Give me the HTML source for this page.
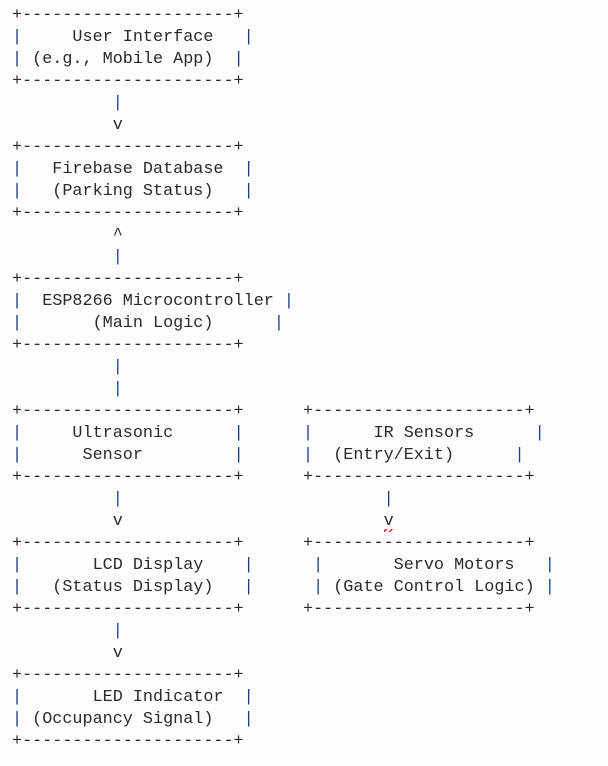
<!DOCTYPE html>
<html><head><meta charset="utf-8"><style>
html,body{margin:0;padding:0;background:#fdfdfd;width:608px;height:766px;overflow:hidden;}
pre{position:absolute;margin:0;font-family:"Liberation Mono",monospace;font-size:16.8px;line-height:22px;color:#2a2a2a;}
b{font-weight:normal;color:#1d3f86;}
.sq{position:relative;}
.sq:after{content:"";position:absolute;left:0;right:0;bottom:-1px;height:3px;background:repeating-linear-gradient(135deg,transparent 0 1px,#e23 1px 2.5px,transparent 2.5px 4px);}
</style></head><body>
<pre style="left:12px;top:5px">+---------------------+
<b>|</b>     User Interface   <b>|</b>
<b>|</b> (e.g., Mobile App)  <b>|</b>
+---------------------+
          <b>|</b>
          v
+---------------------+
<b>|</b>   Firebase Database  <b>|</b>
<b>|</b>   (Parking Status)   <b>|</b>
+---------------------+
          ^
          <b>|</b>
+---------------------+
<b>|</b>  ESP8266 Microcontroller <b>|</b>
<b>|</b>       (Main Logic)      <b>|</b>
+---------------------+
          <b>|</b>
          <b>|</b>
+---------------------+
<b>|</b>     Ultrasonic      <b>|</b>
<b>|</b>      Sensor         <b>|</b>
+---------------------+
          <b>|</b>
          v
+---------------------+
<b>|</b>       LCD Display    <b>|</b>
<b>|</b>   (Status Display)   <b>|</b>
+---------------------+
          <b>|</b>
          v
+---------------------+
<b>|</b>       LED Indicator  <b>|</b>
<b>|</b> (Occupancy Signal)   <b>|</b>
+---------------------+</pre>
<pre style="left:303px;top:401px">+---------------------+
<b>|</b>      IR Sensors      <b>|</b>
<b>|</b>  (Entry/Exit)      <b>|</b>
+---------------------+
        <b>|</b>
        <span class="sq">v</span>
+---------------------+
 <b>|</b>       Servo Motors   <b>|</b>
 <b>|</b> (Gate Control Logic) <b>|</b>
+---------------------+</pre>
</body></html>
